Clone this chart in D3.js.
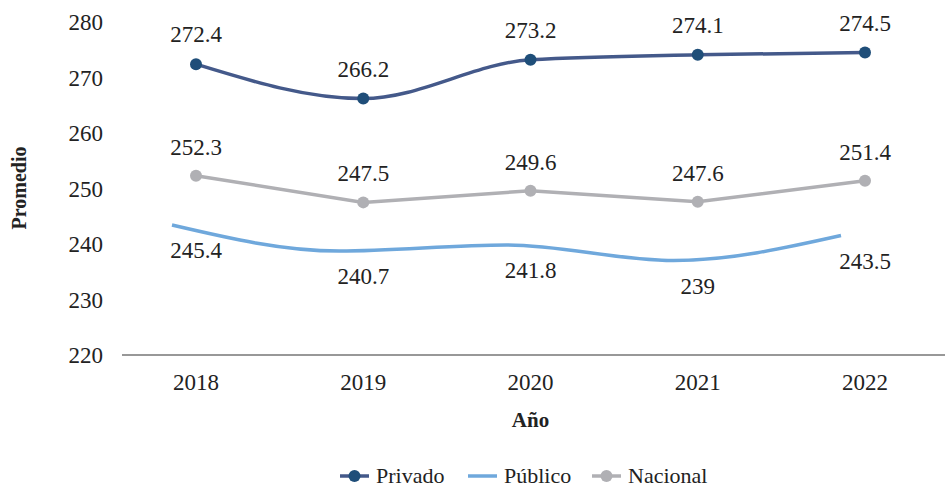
<!DOCTYPE html>
<html>
<head>
<meta charset="utf-8">
<script src="https://cdn.jsdelivr.net/npm/d3@7"></script>
<style>
  body { margin: 0; background: #fff; }
</style>
</head>
<body>
<div id="chart"></div>
<script>
const width = 945;
const height = 488;
const serif = "'Liberation Serif', 'Times New Roman', serif";

// data
const years = ["2018", "2019", "2020", "2021", "2022"];
const privado = [272.4, 266.2, 273.2, 274.1, 274.5];
const publico = [245.4, 240.7, 241.8, 239, 243.5];
const nacional = [252.3, 247.5, 249.6, 247.6, 251.4];
const yTicks = [220, 230, 240, 250, 260, 270, 280];

const cPriv = "#1f4e79", cPrivLine = "#44598a";
const cPub = "#6fa8dc";
const cNac = "#b0b0b4";

var svg = d3.select("#chart")
  .append("svg")
  .attr("width", width)
  .attr("height", height);

const x = d3.scalePoint().domain(years).range([196, 865]);
const y = d3.scaleLinear().domain([220, 280]).range([355, 22]);

function txt(sel, size, weight) {
  return sel.style("font-family", serif)
    .style("font-size", size + "px")
    .style("font-weight", weight || "normal")
    .attr("fill", "#222");
}

// y tick labels
txt(svg.append("g")
  .selectAll("text")
  .data(yTicks)
  .enter()
  .append("text")
  .attr("x", 103)
  .attr("y", d => y(d))
  .attr("dy", "0.35em")
  .attr("text-anchor", "end")
  .text(d => d), 23);

// baseline
svg.append("line")
  .attr("x1", 122).attr("x2", 945)
  .attr("y1", y(220)).attr("y2", y(220))
  .attr("stroke", "#333").attr("stroke-width", 1.2);

// x tick labels
txt(svg.append("g")
  .selectAll("text")
  .data(years)
  .enter()
  .append("text")
  .attr("x", d => x(d))
  .attr("y", 382)
  .attr("dy", "0.35em")
  .attr("text-anchor", "middle")
  .text(d => d), 23);

// axis titles
txt(svg.append("text")
  .attr("x", x("2020"))
  .attr("y", 420)
  .attr("dy", "0.35em")
  .attr("text-anchor", "middle")
  .text("Año"), 21, "bold");

txt(svg.append("text")
  .attr("transform", "translate(19,188) rotate(-90)")
  .attr("dy", "0.35em")
  .attr("text-anchor", "middle")
  .text("Promedio"), 20, "bold");

function drawSeries(vals, opts) {
  const g = svg.append("g");
  const line = d3.line()
    .x((d, i) => x(years[i]))
    .y(d => y(d))
    .curve(opts.curve);
  g.append("path")
    .datum(vals)
    .attr("d", line)
    .attr("fill", "none")
    .attr("stroke", opts.lineColor)
    .attr("stroke-width", 3.5)
    .attr("transform", opts.shift || null);
  if (opts.marker) {
    g.selectAll("circle")
      .data(vals)
      .enter()
      .append("circle")
      .attr("cx", (d, i) => x(years[i]))
      .attr("cy", d => y(d))
      .attr("r", 6)
      .attr("fill", opts.marker);
  }
  txt(g.selectAll("text")
    .data(vals)
    .enter()
    .append("text")
    .attr("x", (d, i) => x(years[i]))
    .attr("y", d => y(d) + opts.labelOffset)
    .attr("dy", "0.35em")
    .attr("text-anchor", "middle")
    .text(d => d), 23);
}

drawSeries(nacional, {curve: d3.curveLinear, lineColor: cNac, marker: cNac, labelOffset: -29});
drawSeries(publico, {curve: d3.curveMonotoneX, lineColor: cPub, labelOffset: 36, shift: "translate(-24,11)"});
drawSeries(privado, {curve: d3.curveMonotoneX, lineColor: cPrivLine, marker: cPriv, labelOffset: -30});

// legend
const legend = [
  {name: "Privado", color: cPrivLine, marker: cPriv, x: 340},
  {name: "Público", color: cPub, marker: null, x: 468},
  {name: "Nacional", color: cNac, marker: cNac, x: 592}
];
const lg = svg.append("g").attr("transform", "translate(0,476)");
legend.forEach(function(l) {
  lg.append("line")
    .attr("x1", l.x).attr("x2", l.x + 29)
    .attr("y1", 0).attr("y2", 0)
    .attr("stroke", l.color).attr("stroke-width", 3.5);
  if (l.marker) {
    lg.append("circle").attr("cx", l.x + 14.5).attr("cy", 0).attr("r", 6).attr("fill", l.marker);
  }
  txt(lg.append("text")
    .attr("x", l.x + 36)
    .attr("y", 0)
    .attr("dy", "0.3em")
    .text(l.name), 22);
});
</script>
</body>
</html>
